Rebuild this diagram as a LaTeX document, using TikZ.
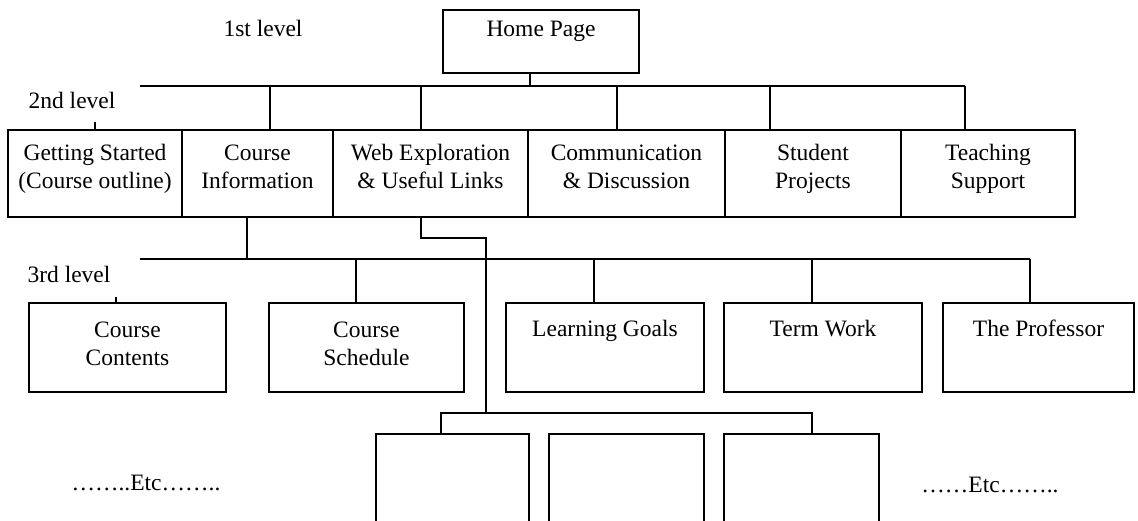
\documentclass[tikz,border=0pt]{standalone}
\usepackage{fontspec}
\setmainfont{Liberation Serif}
\begin{document}
\begin{tikzpicture}[x=1pt,y=-1pt,
  link/.style={line width=2.1pt},
  box/.style={draw, line width=2.1pt, inner sep=0pt, align=center,
    font=\fontsize{23.5}{28}\selectfont},
  twolineA/.style={box, minimum height=87pt, text height=45pt, text depth=14pt},
  twolineB/.style={box, minimum height=89pt, text height=47pt, text depth=12pt},
  oneline/.style={box, minimum height=89pt, text height=18pt, text depth=40pt},
  emptybox/.style={draw, line width=2.1pt, inner sep=0pt, minimum height=100pt},
  lbl/.style={font=\fontsize{23.5}{28}\selectfont, inner sep=0pt}]
\useasboundingbox (0,0) rectangle (1138,521);
\clip (0,0) rectangle (1138,521);

% level 1
\node[box, minimum width=196pt, minimum height=63pt, text height=17pt, text depth=27pt] (home) at (541,41.5) {Home Page};

% level 2
\node[twolineA, minimum width=174pt] (gs) at (95,173.5) {Getting Started\\(Course outline)};
\node[twolineA, minimum width=151pt] (ci) at (257.5,173.5) {Course\\Information};
\node[twolineA, minimum width=195pt] (we) at (430.5,173.5) {Web Exploration\\\& Useful Links};
\node[twolineA, minimum width=197pt] (cd) at (626.5,173.5) {Communication\\\& Discussion};
\node[twolineA, minimum width=176pt] (sp) at (813,173.5) {Student\\Projects};
\node[twolineA, minimum width=174pt] (ts) at (988,173.5) {Teaching\\Support};

% level 3
\node[twolineB, minimum width=197pt] (cc) at (127.5,347.5) {Course\\Contents};
\node[twolineB, minimum width=195pt] (cs) at (366.5,347.5) {Course\\Schedule};
\node[oneline, minimum width=198pt] (lg) at (605,347.5) {Learning Goals};
\node[oneline, minimum width=198pt] (tw) at (823,347.5) {Term Work};
\node[oneline, minimum width=191pt] (tp) at (1038.5,347.5) {The Professor};

% level 4 (cut off at bottom)
\node[emptybox, minimum width=153pt] (b1) at (452.5,484) {};
\node[emptybox, minimum width=155pt] (b2) at (626.5,484) {};
\node[emptybox, minimum width=155pt] (b3) at (801.5,484) {};

% labels
\node[lbl] (l1) at (263,28) {1st level};
\node[lbl] (l2) at (72,100) {2nd level};
\node[lbl] (l3) at (69,274) {3rd level};
\node[lbl] (e1) at (146,483) {……..Etc……..};
\node[lbl] (e2) at (990,485) {……Etc……..};

% level 1 -> level 2
\coordinate (j0) at (530,86);
\coordinate (bus2L) at (140,86);
\coordinate (j1) at (270,86);
\coordinate (j2) at (421,86);
\coordinate (j3) at (617,86);
\coordinate (j4) at (770,86);
\coordinate (j5) at (965,86);
\draw[link] (home.south -| j0) -- (j0);
\draw[link] (bus2L) -- (j5);
\draw[link] (j1) -- (j1 |- ci.north);
\draw[link] (j2) -- (j2 |- we.north);
\draw[link] (j3) -- (j3 |- cd.north);
\draw[link] (j4) -- (j4 |- sp.north);
\draw[link] (j5) -- (j5 |- ts.north);
\coordinate (t2) at (95,122);
\draw[link] (t2) -- (t2 |- gs.north);

% level 2 -> level 3
\coordinate (k0) at (247,259);
\coordinate (bus3L) at (140,259);
\coordinate (k1) at (356,259);
\coordinate (k2) at (594,259);
\coordinate (k3) at (812,259);
\coordinate (k4) at (1030,259);
\draw[link] (ci.south -| k0) -- (k0);
\draw[link] (bus3L) -- (k4);
\draw[link] (k1) -- (k1 |- cs.north);
\draw[link] (k2) -- (k2 |- lg.north);
\draw[link] (k3) -- (k3 |- tw.north);
\draw[link] (k4) -- (k4 |- tp.north);
\coordinate (t3) at (116,297);
\draw[link] (t3) -- (t3 |- cc.north);

% web exploration -> level 4
\coordinate (m1) at (421,238);
\coordinate (m2) at (486,238);
\coordinate (m3) at (486,413);
\coordinate (n1) at (441,413);
\coordinate (n2) at (812,413);
\draw[link] (we.south -| m1) -- (m1) -- (m2) -- (m3);
\draw[link] (n1 |- b1.north) -- (n1) -- (n2) -- (n2 |- b3.north);
\end{tikzpicture}
\end{document}
